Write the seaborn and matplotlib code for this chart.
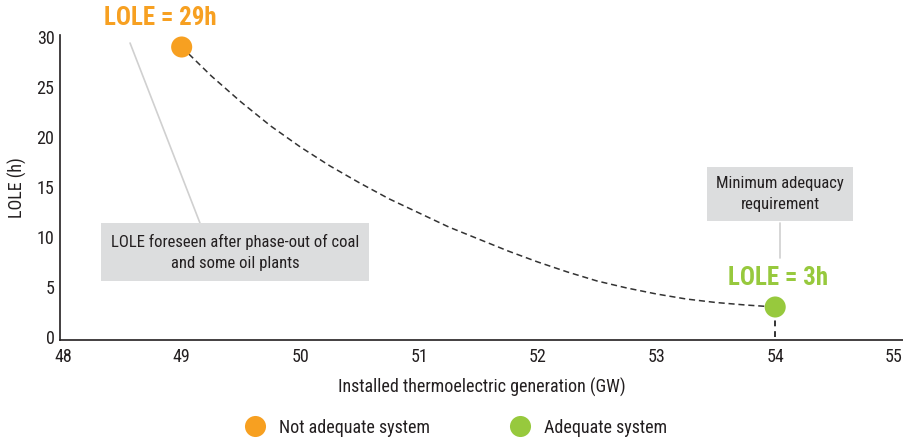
import numpy as np
import pandas as pd
import matplotlib
matplotlib.use('Agg')
import matplotlib.pyplot as plt
import seaborn as sns

# LOLE curve
capacity_gw = [49.0, 49.25, 49.5, 49.75, 50.0, 50.25, 50.5, 50.75, 51.0, 51.25, 51.5,
               51.75, 52.0, 52.25, 52.5, 52.75, 53.0, 53.25, 53.5, 53.75, 54.0]
lole_h = [29.0, 26.1, 23.5, 21.1, 19.0, 17.1, 15.4, 13.8, 12.4, 11.0, 9.8,
          8.6, 7.5, 6.5, 5.6, 4.9, 4.3, 3.8, 3.45, 3.2, 3.0]

# highlighted points
status = ['Not adequate system', 'Adequate system']
point_gw = [49.0, 54.0]
point_lole = [29.0, 3.0]

x_ticks = [48, 49, 50, 51, 52, 53, 54, 55]
y_ticks = [0, 5, 10, 15, 20, 25, 30]

orange = '#F7A021'
green = '#97C93D'
text_col = '#231F20'
box_col = '#DCDDDE'

sns.set_theme(style='white')
plt.rcParams['font.family'] = ['Roboto Condensed', 'DejaVu Sans']

fig = plt.figure(figsize=(9.04, 4.41), dpi=100)
ax = fig.add_axes([60 / 904, 101 / 441, 844 / 904, 305 / 441])

curve = pd.DataFrame({'gw': capacity_gw, 'lole': lole_h})
sns.lineplot(data=curve, x='gw', y='lole', ax=ax, color='#333333', lw=1.1,
             dashes=False, linestyle=(0, (4, 2.5)), zorder=2)

# vertical drop from the adequate point
ax.plot([point_gw[1], point_gw[1]], [0, point_lole[1]], color='#333333', lw=1.4,
        linestyle=(0, (3, 2.5)), zorder=2)

pts = pd.DataFrame({'gw': point_gw, 'lole': point_lole, 'status': status})
sns.scatterplot(data=pts, x='gw', y='lole', hue='status', ax=ax,
                palette={status[0]: orange, status[1]: green}, s=230,
                edgecolor='none', zorder=3, clip_on=False)
handles, labels = ax.get_legend_handles_labels()
ax.legend_.remove()

ax.set_xlim(47.975, 55.085)
ax.set_ylim(-0.3, 30.2)
ax.set_xticks(x_ticks)
ax.set_yticks(y_ticks)
ax.tick_params(axis='both', length=0, labelsize=13, colors=text_col)
ax.tick_params(axis='x', pad=6)
ax.tick_params(axis='y', pad=4)
sns.despine(ax=ax)
for side in ['left', 'bottom']:
    ax.spines[side].set_color(text_col)
    ax.spines[side].set_linewidth(1.2)
ax.set_xlabel('Installed thermoelectric generation (GW)', fontsize=13,
              color=text_col, labelpad=8)
ax.set_ylabel('LOLE (h)', fontsize=13, color=text_col, labelpad=7)

# labels on points
ax.text(48.82, 31.9, 'LOLE = 29h', color=orange, fontsize=18, fontweight='bold',
        ha='center', va='center', clip_on=False)
ax.text(54.02, 5.9, 'LOLE = 3h', color=green, fontsize=18, fontweight='bold',
        ha='center', va='center')

# callouts
ax.plot([48.565, 49.154], [29.4, 11.4], color='#D0D0D0', lw=1.2, zorder=1)
ax.text(49.45, 8.5, 'LOLE foreseen after phase-out of coal\nand some oil plants',
        ha='center', va='center', fontsize=12, color=text_col, linespacing=1.5,
        bbox=dict(boxstyle='square,pad=0.6', fc=box_col, ec='none'))
ax.plot([54.04, 54.04], [11.4, 7.9], color='#D0D0D0', lw=1.2, zorder=1)
ax.text(54.04, 14.3, 'Minimum adequacy\nrequirement',
        ha='center', va='center', fontsize=12, color=text_col, linespacing=1.5,
        bbox=dict(boxstyle='square,pad=0.55', fc=box_col, ec='none'))

fig.legend(handles, labels, loc='center', bbox_to_anchor=(0.5, 0.03),
           ncol=2, frameon=False, fontsize=13, handletextpad=0.3,
           columnspacing=4, markerscale=1.0, labelcolor=text_col)

fig.savefig('out.png', dpi=100)
